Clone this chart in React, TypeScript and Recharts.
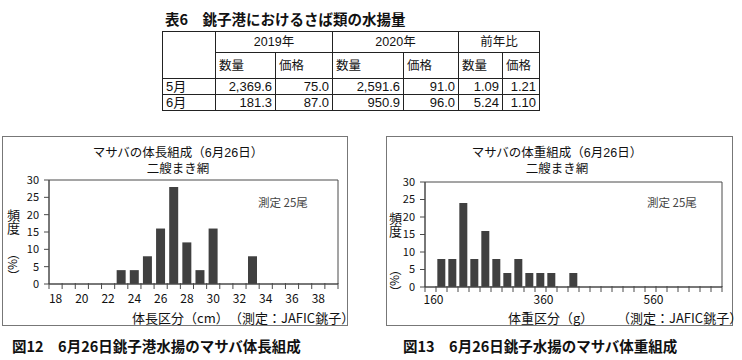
import React from 'react';
import { BarChart, Bar, XAxis, YAxis, ReferenceArea } from 'recharts';

const FONT = '"Noto Sans CJK JP", "Noto Sans", sans-serif';
const TIGHT_FONT = '"Liberation Sans", "Noto Sans CJK JP", sans-serif';

// 表6 銚子港におけるさば類の水揚量
const tableMonths = ['5月', '6月'];
const qty2019 = [2369.6, 181.3];
const price2019 = [75.0, 87.0];
const qty2020 = [2591.6, 950.9];
const price2020 = [91.0, 96.0];
const ratioQty = [1.09, 5.24];
const ratioPrice = [1.21, 1.1];

// 図12 体長組成 (cm, %)
const lengthBins = ['18', '19', '20', '21', '22', '23', '24', '25', '26', '27', '28', '29', '30', '31', '32', '33', '34', '35', '36', '37', '38', '39'];
const lengthFreq = [0, 0, 0, 0, 0, 4, 4, 8, 16, 28, 12, 4, 16, 0, 0, 8, 0, 0, 0, 0, 0, 0];
const lengthLabels = ['18', '20', '22', '24', '26', '28', '30', '32', '34', '36', '38'];

// 図13 体重組成 (g, %)
const weightBins = ['160', '180', '200', '220', '240', '260', '280', '300', '320', '340', '360', '380', '400', '420', '440', '460', '480', '500', '520', '540', '560', '580', '600', '620', '640', '660', '680'];
const weightFreq = [0, 8, 8, 24, 8, 16, 8, 4, 8, 4, 4, 4, 0, 4, 0, 0, 0, 0, 0, 0, 0, 0, 0, 0, 0, 0, 0];
const weightLabels = ['160', '360', '560'];

const yTicks = [0, 5, 10, 15, 20, 25, 30];

const AXIS = '#4a4a4a';

function BinTick(props: any) {
  const { x, y, payload, index, labels, dx, dy, count, width } = props;
  const half = payload.offset ?? width / count / 2;
  const show = labels.includes(String(payload.value));
  return (
    <g>
      {index === 0 && <line x1={x - half} x2={x - half} y1={y - 1} y2={y + 5} stroke={AXIS} />}
      <line x1={x + half} x2={x + half} y1={y - 1} y2={y + 5} stroke={AXIS} />
      {show && (
        <text x={x + dx} y={y + dy} textAnchor="middle" fontSize={12} fill="#111" fontFamily={FONT}>
          {payload.value}
        </text>
      )}
    </g>
  );
}

function Histogram({ bins, freq, labels, left, yWidth, top, bottom, gap, dx, dy }: any) {
  const data = bins.map((b: string, i: number) => ({ bin: b, value: freq[i] }));
  return (
    <div style={{ position: 'absolute', left, top: 136 }}>
      <BarChart width={348} height={190} data={data} barCategoryGap={gap} margin={{ top, right: 10, bottom, left: 0 }}>
        <XAxis
          dataKey="bin"
          interval={0}
          tickLine={false}
          tickSize={0}
          tickMargin={0}
          height={30}
          axisLine={{ stroke: AXIS }}
          tick={<BinTick labels={labels} dx={dx} dy={dy} count={bins.length} />}
        />
        <YAxis
          domain={[0, 30]}
          ticks={yTicks}
          width={yWidth}
          tickSize={5}
          tickMargin={5}
          axisLine={{ stroke: AXIS }}
          tickLine={{ stroke: AXIS }}
          tick={{ fontSize: 11, fill: '#111', fontFamily: FONT }}
        />
        <ReferenceArea x1={bins[0]} x2={bins[bins.length - 1]} y1={0} y2={30} fill="none" stroke={AXIS} />
        <Bar dataKey="value" fill="#404040" isAnimationActive={false} />
      </BarChart>
    </div>
  );
}

const abs = (s: React.CSSProperties): React.CSSProperties => ({ position: 'absolute', whiteSpace: 'nowrap', fontFamily: FONT, ...s });

const cell: React.CSSProperties = { border: '1px solid #222', padding: '0 3px', lineHeight: '14px', fontSize: 12.5, fontFamily: TIGHT_FONT };

function ChartTitle({ center, name }: { center: number; name: string }) {
  const base = { left: center - 110, width: 220, fontSize: 12.5, textAlign: 'center' as const, fontFamily: TIGHT_FONT, lineHeight: '15px' };
  return (
    <>
      <div style={abs({ ...base, top: 146 })}>{name}</div>
      <div style={abs({ ...base, top: 162 })}>二艘まき網</div>
    </>
  );
}

export default function App() {
  const fmt1 = (v: number) => v.toLocaleString('en-US', { minimumFractionDigits: 1, maximumFractionDigits: 1 });
  return (
    <div style={{ position: 'absolute', left: 0, top: 0, width: 742, height: 360, background: '#fff', fontFamily: FONT, color: '#111' }}>
      <div style={abs({ left: 165, top: 8, fontSize: 14.5, fontWeight: 700 })}>表6　銚子港におけるさば類の水揚量</div>
      <table style={{ position: 'absolute', left: 162, top: 31, borderCollapse: 'collapse', tableLayout: 'fixed', width: 377 }}>
        <colgroup>
          {[53, 60, 57, 71, 55, 44, 37].map((w, i) => <col key={i} style={{ width: w }} />)}
        </colgroup>
        <tbody>
          <tr style={{ height: 21 }}>
            <td rowSpan={2} style={cell}></td>
            <td colSpan={2} style={{ ...cell, textAlign: 'center' }}>2019年</td>
            <td colSpan={2} style={{ ...cell, textAlign: 'center' }}>2020年</td>
            <td colSpan={2} style={{ ...cell, textAlign: 'center' }}>前年比</td>
          </tr>
          <tr style={{ height: 26 }}>
            {['数量', '価格', '数量', '価格', '数量', '価格'].map((t, i) => (
              <td key={i} style={{ ...cell, textAlign: 'left' }}>{t}</td>
            ))}
          </tr>
          {tableMonths.map((m, i) => (
            <tr key={m} style={{ height: 16 }}>
              <td style={{ ...cell, textAlign: 'left', fontSize: 13 }}>{m}</td>
              {[fmt1(qty2019[i]), fmt1(price2019[i]), fmt1(qty2020[i]), fmt1(price2020[i]), ratioQty[i].toFixed(2), ratioPrice[i].toFixed(2)].map((v, j) => (
                <td key={j} style={{ ...cell, textAlign: 'right', fontSize: 13 }}>{v}</td>
              ))}
            </tr>
          ))}
        </tbody>
      </table>

      {/* 図12 */}
      <div style={{ position: 'absolute', left: 2, top: 136, width: 344, height: 188, border: '1px solid #777' }} />
      <Histogram bins={lengthBins} freq={lengthFreq} labels={lengthLabels} left={0} yWidth={49} top={44} bottom={12} gap="15%" dx={0} dy={19} />
      <ChartTitle center={178} name="マサバの体長組成（6月26日）" />
      <div style={abs({ left: 258, top: 194, fontSize: 11.5, color: '#444' })}>測定 25尾</div>
      <div style={abs({ left: 6, top: 209, fontSize: 13, writingMode: 'vertical-rl', lineHeight: '14px' })}>頻度</div>
      <div style={abs({ left: 7, top: 247, fontSize: 12, writingMode: 'vertical-rl', lineHeight: '13px' })}>（%）</div>
      <div style={abs({ left: 132, top: 308, fontSize: 13 })}>体長区分（cm）</div>
      <div style={abs({ left: 229, top: 308, fontSize: 13 })}>（測定：JAFIC銚子）</div>

      {/* 図13 */}
      <div style={{ position: 'absolute', left: 386, top: 136, width: 345, height: 188, border: '1px solid #777' }} />
      <Histogram bins={weightBins} freq={weightFreq} labels={weightLabels} left={384} yWidth={41} top={46} bottom={9} gap="12%" dx={3} dy={17} />
      <ChartTitle center={557} name="マサバの体重組成（6月26日）" />
      <div style={abs({ left: 647, top: 194, fontSize: 11.5, color: '#444' })}>測定 25尾</div>
      <div style={abs({ left: 388, top: 212, fontSize: 13, writingMode: 'vertical-rl', lineHeight: '14px' })}>頻度</div>
      <div style={abs({ left: 389, top: 263, fontSize: 12, writingMode: 'vertical-rl', lineHeight: '13px' })}>（%）</div>
      <div style={abs({ left: 508, top: 308, fontSize: 13 })}>体重区分（g）</div>
      <div style={abs({ left: 617, top: 308, fontSize: 13 })}>（測定：JAFIC銚子）</div>

      <div style={abs({ left: 12, top: 335, fontSize: 14.5, fontWeight: 700 })}>図12　6月26日銚子港水揚のマサバ体長組成</div>
      <div style={abs({ left: 403, top: 335, fontSize: 14.5, fontWeight: 700 })}>図13　6月26日銚子水揚のマサバ体重組成</div>
    </div>
  );
}
